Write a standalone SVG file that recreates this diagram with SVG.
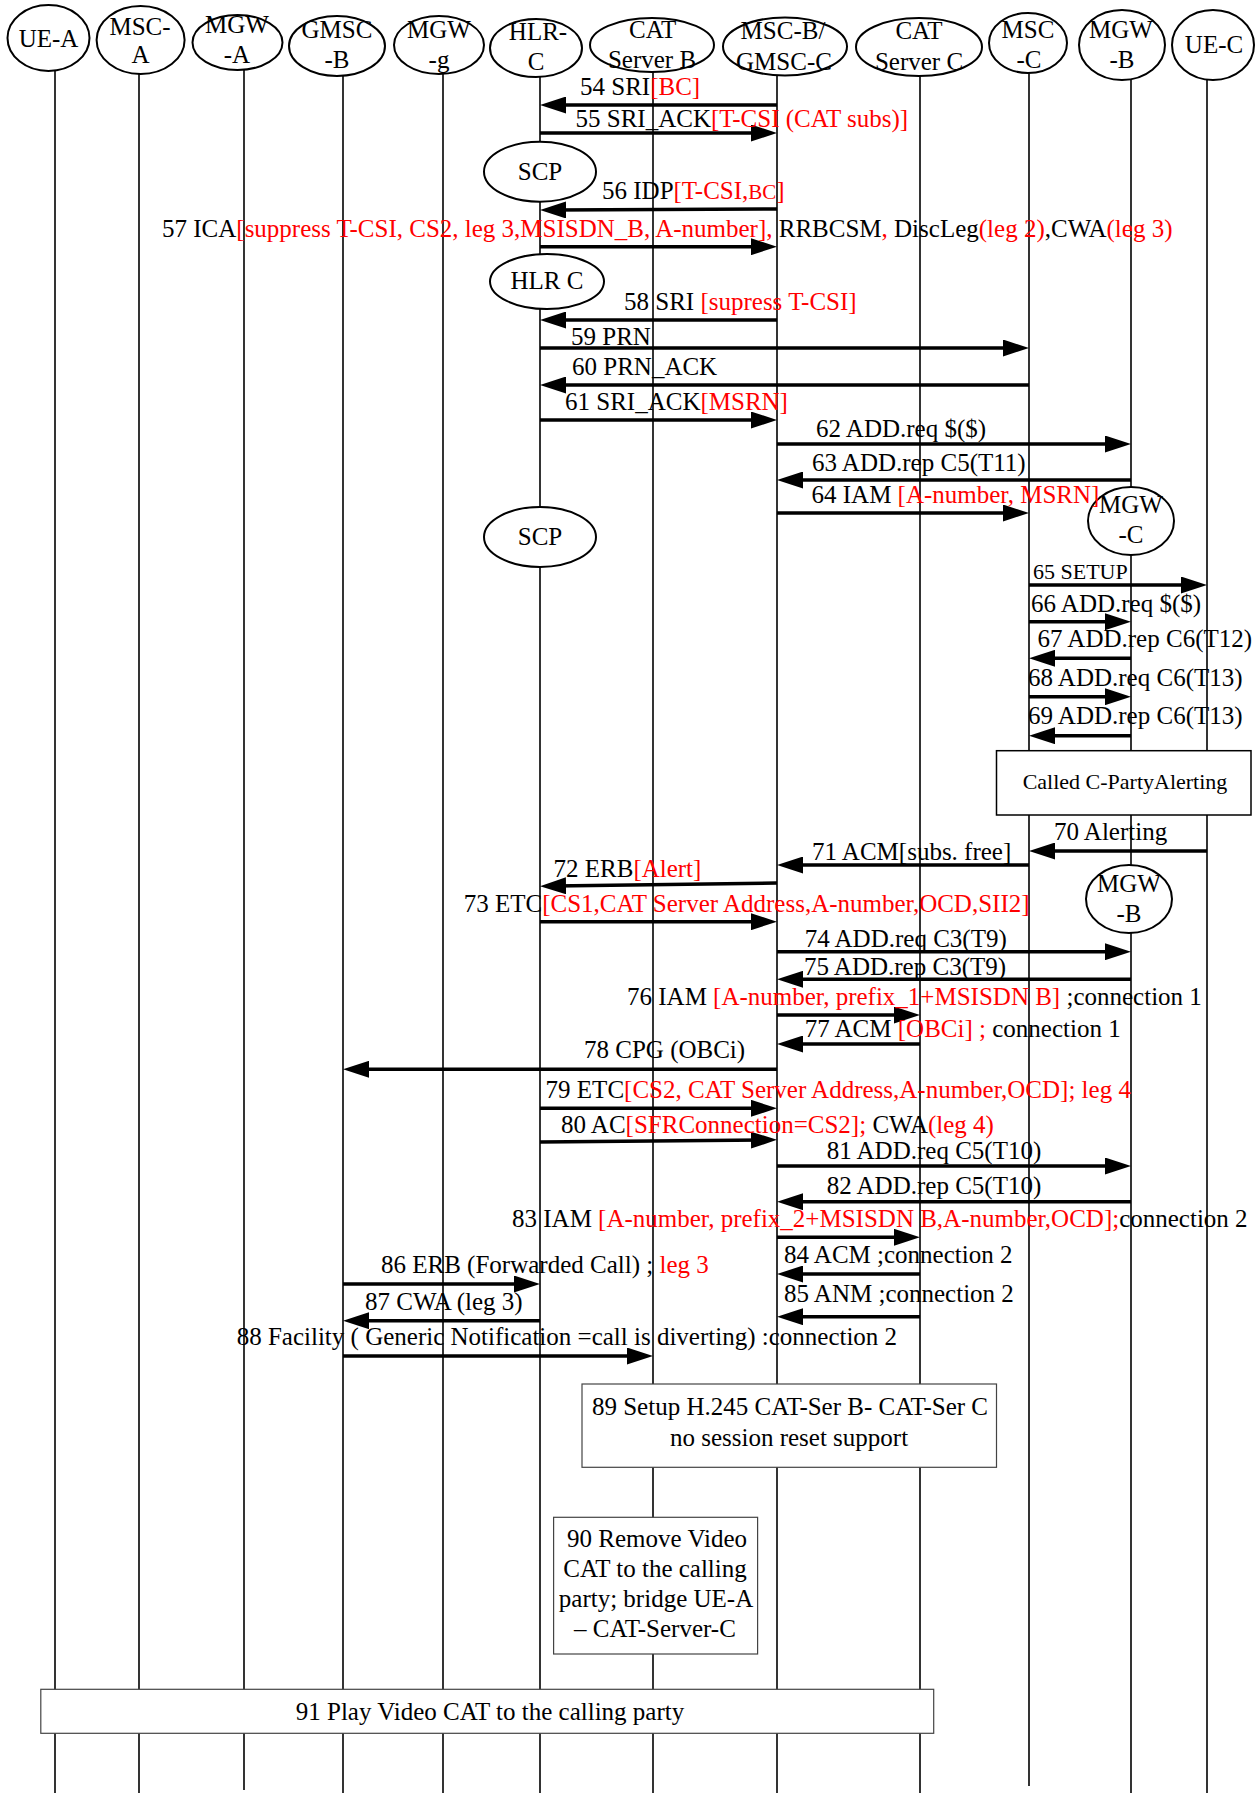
<svg xmlns="http://www.w3.org/2000/svg" width="1258" height="1793" viewBox="0 0 1258 1793">
  <style>
    .t { font-family: "Liberation Serif", "Times New Roman", serif; font-size: 25px; fill: #000; }
    .c { text-anchor: middle; }
    .r { fill: #ff0000; }
    .sm { font-size: 22px; }
    .xs { font-size: 21px; }
    .lf { stroke: #000; stroke-width: 1.6; fill: none; }
    .hd { fill: #fff; stroke: #000; stroke-width: 2; }
    .bx { fill: #fff; stroke: #000; stroke-width: 1.5; }
    .nb { fill: #fff; stroke: #444; stroke-width: 1.2; }
    .m { stroke: #000; stroke-width: 3.5; fill: none; marker-end: url(#ah); }
  </style>
  <defs>
    <marker id="ah" markerUnits="userSpaceOnUse" viewBox="0 0 26 17" markerWidth="26" markerHeight="17" refX="12" refY="8.5" orient="auto">
      <path d="M0,0 L26,8.5 L0,17 Z" fill="#000"/>
    </marker>
  </defs>
  <rect width="1258" height="1793" fill="#fff"/>

  <!-- lifelines -->
  <g id="lifelines">
    <line class="lf" x1="55" y1="38" x2="55" y2="1793"/>
    <line class="lf" x1="139" y1="40" x2="139" y2="1793"/>
    <line class="lf" x1="244" y1="42" x2="244" y2="1790"/>
    <line class="lf" x1="343" y1="46" x2="343" y2="1793"/>
    <line class="lf" x1="443" y1="45" x2="443" y2="1793"/>
    <line class="lf" x1="540" y1="48" x2="540" y2="1793"/>
    <line class="lf" x1="653" y1="45" x2="653" y2="1793"/>
    <line class="lf" x1="777" y1="46" x2="777" y2="1793"/>
    <line class="lf" x1="920" y1="47" x2="920" y2="1793"/>
    <line class="lf" x1="1029" y1="43" x2="1029" y2="1786"/>
    <line class="lf" x1="1131" y1="45" x2="1131" y2="1793"/>
    <line class="lf" x1="1207" y1="45" x2="1207" y2="1793"/>
  </g>

  <!-- participant heads -->
  <g id="ue-a"><ellipse class="hd" cx="48.5" cy="38" rx="41" ry="33"/><text class="t c" x="48.5" y="46.7">UE-A</text></g>
  <g id="msc-a"><ellipse class="hd" cx="140.6" cy="40" rx="44" ry="34"/><text class="t c" x="140" y="35">MSC-</text><text class="t c" x="140.6" y="63">A</text></g>
  <g id="mgw-a"><ellipse class="hd" cx="237.5" cy="42.5" rx="45" ry="27.5"/><text class="t c" x="237" y="33">MGW</text><text class="t c" x="237" y="62.7">-A</text></g>
  <g id="gmsc-b"><ellipse class="hd" cx="337" cy="46" rx="48" ry="30"/><text class="t c" x="337" y="38">GMSC</text><text class="t c" x="337" y="68">-B</text></g>
  <g id="mgw-g"><ellipse class="hd" cx="439" cy="45" rx="45" ry="29"/><text class="t c" x="439" y="38">MGW</text><text class="t c" x="439" y="68">-g</text></g>
  <g id="hlr-c"><ellipse class="hd" cx="536" cy="48" rx="46" ry="29"/><text class="t c" x="538" y="40">HLR-</text><text class="t c" x="536" y="70">C</text></g>
  <g id="cat-server-b"><ellipse class="hd" cx="652" cy="45" rx="62" ry="27"/><text class="t c" x="652.6" y="38">CAT</text><text class="t c" x="652" y="68">Server B</text></g>
  <g id="msc-b-gmsc-c"><ellipse class="hd" cx="785" cy="46.5" rx="62" ry="29"/><text class="t c" x="783" y="39">MSC-B/</text><text class="t c" x="784" y="70">GMSC-C</text></g>
  <g id="cat-server-c"><ellipse class="hd" cx="919" cy="47" rx="63" ry="29"/><text class="t c" x="919" y="39">CAT</text><text class="t c" x="919" y="70">Server C</text></g>
  <g id="msc-c"><ellipse class="hd" cx="1028" cy="43" rx="39" ry="30"/><text class="t c" x="1028" y="37.7">MSC</text><text class="t c" x="1029" y="68">-C</text></g>
  <g id="mgw-b"><ellipse class="hd" cx="1122" cy="45" rx="43" ry="35"/><text class="t c" x="1121" y="37.7">MGW</text><text class="t c" x="1122" y="68">-B</text></g>
  <g id="ue-c"><ellipse class="hd" cx="1213" cy="45" rx="41" ry="35"/><text class="t c" x="1214" y="53">UE-C</text></g>

  <!-- in-flow entity markers -->
  <g id="scp-1"><ellipse class="hd" cx="540" cy="171.7" rx="56" ry="30"/><text class="t c" x="540" y="180">SCP</text></g>
  <g id="hlr-c-2"><ellipse class="hd" cx="547" cy="281.5" rx="57" ry="27.5"/><text class="t c" x="547" y="289">HLR C</text></g>
  <g id="scp-2"><ellipse class="hd" cx="540" cy="537" rx="56" ry="30"/><text class="t c" x="540" y="545">SCP</text></g>
  <g id="mgw-c"><ellipse class="hd" cx="1131" cy="521" rx="43" ry="34"/><text class="t c" x="1131" y="513.3">MGW</text><text class="t c" x="1131" y="543.3">-C</text></g>
  <g id="mgw-b-2"><ellipse class="hd" cx="1129" cy="899" rx="43" ry="34"/><text class="t c" x="1129" y="891.7">MGW</text><text class="t c" x="1129" y="921.7">-B</text></g>

  <!-- activity boxes -->
  <g id="called-alerting"><rect class="bx" x="996.5" y="750.7" width="254.5" height="64.3"/><text class="t c sm" x="1125" y="789">Called C-PartyAlerting</text></g>
  <g id="setup-h245"><rect class="nb" x="582" y="1384" width="414.5" height="83.3"/><text class="t c" x="790" y="1415">89 Setup H.245 CAT-Ser B- CAT-Ser C</text><text class="t c" x="789" y="1446">no session reset support</text></g>
  <g id="remove-video"><rect class="nb" x="553.6" y="1517.3" width="204" height="136.7"/>
    <text class="t c" x="657" y="1546.7">90 Remove Video</text>
    <text class="t c" x="655" y="1576.7">CAT to the calling</text>
    <text class="t c" x="656" y="1607.3">party; bridge UE-A</text>
    <text class="t c" x="655" y="1637.3">– CAT-Server-C</text>
  </g>
  <g id="play-video"><rect class="nb" x="40.8" y="1689.3" width="892.9" height="44"/><text class="t c" x="490" y="1720">91 Play Video CAT to the calling party</text></g>

  <!-- messages -->
  <g id="connectors">
    <line class="m" x1="777" y1="105" x2="554" y2="105"/>
    <line class="m" x1="540" y1="133" x2="763" y2="133"/>
    <line class="m" x1="777" y1="209" x2="554" y2="210"/>
    <line class="m" x1="540" y1="246.7" x2="763" y2="246.7"/>
    <line class="m" x1="777" y1="320" x2="554" y2="320"/>
    <line class="m" x1="540" y1="348" x2="1015" y2="348"/>
    <line class="m" x1="1029" y1="385" x2="554" y2="385"/>
    <line class="m" x1="540" y1="420" x2="763" y2="420"/>
    <line class="m" x1="777" y1="444" x2="1117" y2="444"/>
    <line class="m" x1="1131" y1="480" x2="791" y2="480"/>
    <line class="m" x1="777" y1="513" x2="1015" y2="513"/>
    <line class="m" x1="1029" y1="585" x2="1193" y2="585"/>
    <line class="m" x1="1029" y1="621.7" x2="1117" y2="621.7"/>
    <line class="m" x1="1131" y1="658.3" x2="1043" y2="658.3"/>
    <line class="m" x1="1029" y1="696.7" x2="1117" y2="696.7"/>
    <line class="m" x1="1131" y1="735.7" x2="1043" y2="735.7"/>
    <line class="m" x1="1207" y1="851" x2="1043" y2="851"/>
    <line class="m" x1="1029" y1="865" x2="791" y2="865"/>
    <line class="m" x1="777" y1="883" x2="554" y2="886"/>
    <line class="m" x1="540" y1="921.7" x2="763" y2="921.7"/>
    <line class="m" x1="777" y1="951.7" x2="1117" y2="951.7"/>
    <line class="m" x1="1131" y1="979.3" x2="791" y2="979.3"/>
    <line class="m" x1="777" y1="1015" x2="906" y2="1015"/>
    <line class="m" x1="920" y1="1044" x2="791" y2="1044"/>
    <line class="m" x1="777" y1="1069.3" x2="357" y2="1069.3"/>
    <line class="m" x1="540" y1="1108.3" x2="763" y2="1108.3"/>
    <line class="m" x1="540" y1="1142" x2="763" y2="1140"/>
    <line class="m" x1="777" y1="1166" x2="1117" y2="1166"/>
    <line class="m" x1="1131" y1="1201.7" x2="791" y2="1201.7"/>
    <line class="m" x1="777" y1="1237.3" x2="906" y2="1237.3"/>
    <line class="m" x1="920" y1="1274" x2="791" y2="1274"/>
    <line class="m" x1="920" y1="1316.7" x2="791" y2="1316.7"/>
    <line class="m" x1="343" y1="1284" x2="526" y2="1284"/>
    <line class="m" x1="540" y1="1320.7" x2="357" y2="1320.7"/>
    <line class="m" x1="343" y1="1356" x2="639" y2="1356"/>
  </g>

  <!-- message labels -->
  <g id="labels" class="t">
    <text x="580" y="95">54 SRI<tspan class="r">[BC]</tspan></text>
    <text x="575.5" y="127">55 SRI_ACK<tspan class="r">[T-CSI (CAT subs)]</tspan></text>
    <text x="602" y="199">56 IDP<tspan class="r">[T-CSI,<tspan class="xs">BC</tspan>]</tspan></text>
    <text x="162" y="237">57 ICA<tspan class="r">[suppress T-CSI, CS2, leg 3,MSISDN_B, A-number],</tspan> RRBCSM<tspan class="r">,</tspan> DiscLeg<tspan class="r">(leg 2)</tspan>,CWA<tspan class="r">(leg 3)</tspan></text>
    <text x="624" y="310">58 SRI <tspan class="r">[supress T-CSI]</tspan></text>
    <text x="571" y="345">59 PRN</text>
    <text x="572" y="375">60 PRN_ACK</text>
    <text x="565" y="410">61 SRI_ACK<tspan class="r">[MSRN]</tspan></text>
    <text x="816" y="436.7">62 ADD.req $($)</text>
    <text x="812" y="471">63 ADD.rep C5(T11)</text>
    <text x="811.5" y="503">64 IAM <tspan class="r">[A-number, MSRN]</tspan></text>
    <text class="sm" x="1033" y="579">65 SETUP</text>
    <text x="1031" y="611.7">66 ADD.req $($)</text>
    <text x="1037.5" y="647">67 ADD.rep C6(T12)</text>
    <text x="1028" y="686">68 ADD.req C6(T13)</text>
    <text x="1028" y="724">69 ADD.rep C6(T13)</text>
    <text x="1054" y="840">70 Alerting</text>
    <text x="812" y="860">71 ACM[subs. free]</text>
    <text x="553.5" y="876.7">72 ERB<tspan class="r">[Alert]</tspan></text>
    <text x="463.7" y="911.7">73 ETC<tspan class="r">[CS1,CAT Server Address,A-number,OCD,SII2]</tspan></text>
    <text x="804.7" y="946.7">74 ADD.req C3(T9)</text>
    <text x="804" y="975">75 ADD.rep C3(T9)</text>
    <text x="627" y="1005">76 IAM <tspan class="r">[A-number, prefix_1+MSISDN B]</tspan> ;connection 1</text>
    <text x="804.7" y="1036.7">77 ACM <tspan class="r">[OBCi] ;</tspan> connection 1</text>
    <text x="584" y="1058">78 CPG (OBCi)</text>
    <text x="545.6" y="1098">79 ETC<tspan class="r">[CS2, CAT Server Address,A-number,OCD]; leg 4</tspan></text>
    <text x="561" y="1133">80 AC<tspan class="r">[SFRConnection=CS2];</tspan> CWA<tspan class="r">(leg 4)</tspan></text>
    <text x="826.7" y="1159.3">81 ADD.req C5(T10)</text>
    <text x="826.7" y="1194">82 ADD.rep C5(T10)</text>
    <text x="512" y="1226.7">83 IAM <tspan class="r">[A-number, prefix_2+MSISDN B,A-number,OCD];</tspan>connection 2</text>
    <text x="784" y="1263">84 ACM ;connection 2</text>
    <text x="784" y="1301.7">85 ANM ;connection 2</text>
    <text x="381" y="1273">86 ERB (Forwarded Call) ; <tspan class="r">leg 3</tspan></text>
    <text x="365" y="1310">87 CWA (leg 3)</text>
    <text x="236.7" y="1345">88 Facility ( Generic Notification =call is diverting) :connection 2</text>
  </g>
</svg>
